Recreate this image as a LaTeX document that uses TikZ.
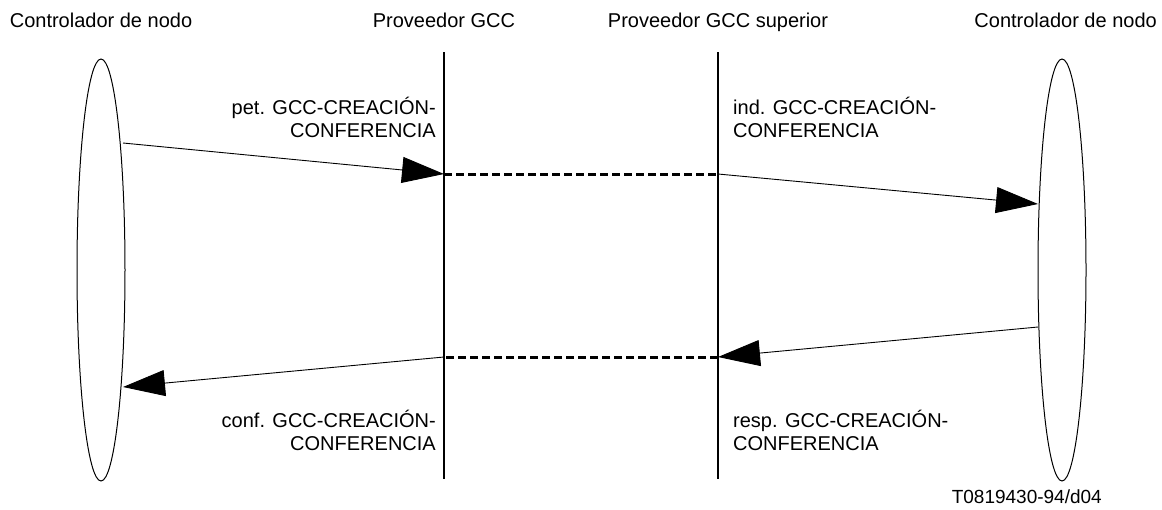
\documentclass[tikz,border=0pt]{standalone}
\usepackage{fontspec}
\setmainfont{Liberation Sans}
\usetikzlibrary{arrows.meta,shapes.geometric}
\begin{document}
\begin{tikzpicture}[x=1pt,y=-1pt,
  txt/.style={inner sep=0pt,font=\fontsize{20}{23}\selectfont},
  lbl/.style={txt,align=left},
  lblr/.style={txt,align=right},
  ctrl/.style={draw,ellipse,line width=1pt,minimum width=48pt,minimum height=422pt,inner sep=0pt},
  life/.style={line width=2pt},
  msg/.style={line width=0.9pt,-{Triangle[length=42pt,width=26pt]}},
  relay/.style={line width=3pt,dash pattern=on 8pt off 4pt}]
\useasboundingbox (0,0) rectangle (1162,509);
% participants
\node[txt,anchor=base] (hL) at (101,27) {Controlador de nodo};
\node[txt,anchor=base] (hP) at (444,27) {Proveedor GCC};
\node[txt,anchor=base] (hS) at (718,27) {Proveedor GCC superior};
\node[txt,anchor=base east] (hR) at (1157,27) {Controlador de nodo};
\node[ctrl] (L) at (101,270) {};
\node[ctrl] (R) at (1062,270) {};
\coordinate (Pt) at (444,52); \coordinate (Pb) at (444,479);
\coordinate (St) at (718,52); \coordinate (Sb) at (718,479);
\draw[life] (Pt) -- (Pb);
\draw[life] (St) -- (Sb);
% message points
\coordinate (m1s) at (123,143); \coordinate (m1e) at (444,174);
\coordinate (m2s) at (718,174); \coordinate (m2e) at (1038,204);
\coordinate (m3s) at (1038,327); \coordinate (m3e) at (718,357);
\coordinate (m4s) at (444,357); \coordinate (m4e) at (123,387);
\draw[msg] (m1s) -- (m1e);
\draw[relay] (m1e) -- (m2s);
\draw[msg] (m2s) -- (m2e);
\draw[msg] (m3s) -- (m3e);
\draw[relay] (m3e) -- (m4s);
\draw[msg] (m4s) -- (m4e);
% labels
\node[lblr,anchor=east] (t1) at (436,117) {pet. GCC-CREACIÓN-\\CONFERENCIA};
\node[lbl,anchor=west] (t2) at (733,117) {ind. GCC-CREACIÓN-\\CONFERENCIA};
\node[lblr,anchor=east] (t3) at (436,430) {conf. GCC-CREACIÓN-\\CONFERENCIA};
\node[lbl,anchor=west] (t4) at (733,430) {resp. GCC-CREACIÓN-\\CONFERENCIA};
\node[inner sep=0pt,anchor=east,font=\fontsize{19}{22}\selectfont] (code) at (1102,497) {T0819430-94/d04};
\end{tikzpicture}
\end{document}
